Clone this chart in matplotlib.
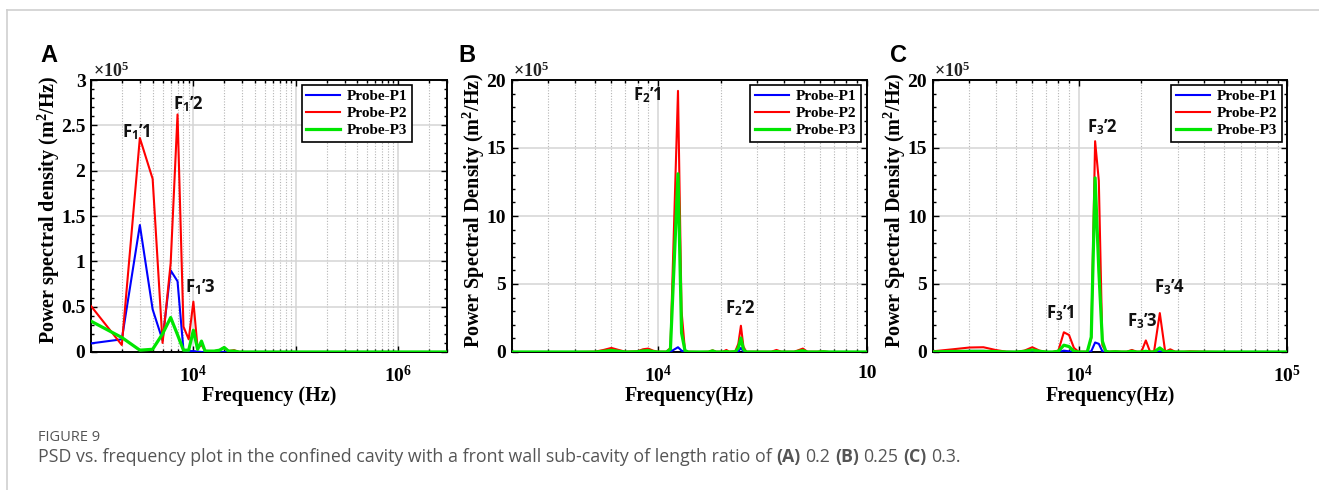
import matplotlib
matplotlib.use('Agg')
import numpy as np
import matplotlib.pyplot as plt
from matplotlib import font_manager
from matplotlib.ticker import FixedLocator, FixedFormatter, MultipleLocator, LogLocator, NullFormatter
from matplotlib.lines import Line2D


def pick_bold_family(prefs, fallback='DejaVu Sans'):
    for fam in prefs:
        for f in font_manager.fontManager.ttflist:
            if f.name != fam:
                continue
            w = f.weight
            if isinstance(w, str):
                w = font_manager.weight_dict.get(w, 400)
            if w >= 600:
                return fam
    return fallback


ANN_FAMILY = pick_bold_family(['Open Sans', 'Noto Sans', 'Lato', 'Roboto', 'Liberation Sans'])
CAP_FAMILY = pick_bold_family(['Noto Sans', 'Open Sans', 'Roboto', 'Lato', 'Liberation Sans'])

plt.rcParams['font.family'] = ['Liberation Serif', 'DejaVu Serif']
plt.rcParams['font.weight'] = 'bold'
plt.rcParams['mathtext.fontset'] = 'custom'
plt.rcParams['mathtext.rm'] = 'Liberation Serif:bold'
plt.rcParams['mathtext.bf'] = 'Liberation Serif:bold'
plt.rcParams['mathtext.it'] = 'Liberation Serif'
plt.rcParams['mathtext.sf'] = ANN_FAMILY + ':bold'

# ---------------- data (PSD in units of 1e5 m^2/Hz) ----------------
series_names = ['Probe-P1', 'Probe-P2', 'Probe-P3']

freq_a = [1000, 2000, 3000, 4000, 5000, 6000, 7000, 8000, 9000, 10000, 11000, 12000,
          13000, 14000, 15000, 16000, 18000, 20000, 22000, 25000, 28000, 3000000]
p1_a = [0.095, 0.14, 1.40, 0.47, 0.13, 0.90, 0.78, 0.02, 0.01, 0.01, 0.005, 0.0,
        0.0, 0.0, 0.0, 0.0, 0.0, 0.0, 0.0, 0.0, 0.0, 0.0]
p2_a = [0.507, 0.077, 2.36, 1.91, 0.10, 0.98, 2.62, 0.28, 0.14, 0.555, 0.04, 0.08,
        0.015, 0.01, 0.01, 0.01, 0.02, 0.05, 0.01, 0.02, 0.0, 0.0]
p3_a = [0.34, 0.16, 0.02, 0.03, 0.20, 0.38, 0.19, 0.02, 0.02, 0.24, 0.03, 0.12,
        0.01, 0.01, 0.01, 0.01, 0.02, 0.05, 0.01, 0.01, 0.0, 0.0]

freq_b = [2000, 3000, 4000, 5000, 5500, 6000, 6500, 7000, 8000, 8500, 9000, 9500, 10000,
          11000, 11500, 12500, 13000, 13500, 14000, 16000, 17500, 18300, 19000, 20500,
          21300, 22000, 23500, 24300, 25000, 25700, 26500, 30000, 35000, 37000, 39000,
          45000, 49500, 52000, 58000, 62000, 66000, 80000, 100000]
p1_b = [0, 0, 0, 0, 0, 0.02, 0, 0, 0, 0, 0.02, 0, 0,
        0, 0.02, 0.35, 0.1, 0.02, 0, 0, 0, 0.02, 0, 0,
        0, 0, 0, 0.05, 0.3, 0.05, 0, 0, 0, 0, 0,
        0, 0.05, 0, 0, 0, 0, 0, 0]
p2_b = [0, 0, 0, 0.02, 0.15, 0.3, 0.15, 0.02, 0.05, 0.2, 0.25, 0.1, 0.02,
        0.02, 0.3, 19.2, 3.0, 0.1, 0.02, 0, 0.02, 0.12, 0.02, 0.02,
        0.15, 0.02, 0.05, 0.6, 1.93, 0.4, 0.02, 0.02, 0.02, 0.15, 0.02,
        0.02, 0.25, 0.02, 0.02, 0.05, 0, 0, 0]
p3_b = [0, 0, 0, 0, 0.05, 0.12, 0.05, 0, 0.02, 0.08, 0.1, 0.03, 0,
        0, 0.2, 13.1, 1.4, 0.1, 0, 0, 0, 0.08, 0, 0,
        0.03, 0, 0.02, 0.3, 1.03, 0.2, 0, 0, 0, 0.03, 0,
        0, 0.1, 0, 0, 0.02, 0, 0, 0]

freq_c = [2000, 2500, 3000, 3500, 4000, 4500, 5000, 5500, 6000, 6500, 7000, 7500, 8000,
          8500, 9000, 9500, 10000, 11000, 11500, 12000, 12500, 13000, 13500, 14000, 15000,
          16000, 17000, 18000, 19000, 20000, 21000, 22000, 23000, 24500, 26000, 27500,
          29000, 32000, 34000, 40000, 50000, 60000, 100000]
p1_c = [0.01, 0.05, 0.08, 0.08, 0.04, 0.01, 0, 0, 0.03, 0, 0, 0, 0,
        0.1, 0.05, 0.01, 0, 0, 0.05, 0.7, 0.6, 0.05, 0, 0, 0,
        0, 0, 0.02, 0, 0, 0.05, 0, 0, 0.05, 0, 0.02,
        0, 0, 0, 0, 0, 0, 0]
p2_c = [0.05, 0.2, 0.33, 0.35, 0.15, 0.02, 0, 0.1, 0.35, 0.1, 0, 0, 0.1,
        1.45, 1.25, 0.3, 0.02, 0.02, 1.0, 15.5, 12.6, 0.5, 0.05, 0.02, 0.05,
        0.02, 0.02, 0.15, 0.02, 0.02, 0.85, 0.02, 0.05, 2.86, 0.02, 0.2,
        0.02, 0.02, 0.05, 0.02, 0, 0, 0]
p3_c = [0.01, 0.04, 0.05, 0.05, 0.03, 0, 0, 0.05, 0.15, 0.05, 0, 0, 0.05,
        0.5, 0.4, 0.05, 0, 0, 1.1, 12.8, 6.0, 0.8, 0.05, 0, 0.02,
        0, 0, 0.05, 0, 0, 0.05, 0, 0, 0.3, 0, 0.05,
        0, 0, 0, 0, 0, 0, 0]

y_ticks_a = [0, 0.5, 1, 1.5, 2, 2.5, 3]
y_ticklabels_a = ['0', '0.5', '1', '1.5', '2', '2.5', '3']
y_ticks_bc = [0, 5, 10, 15, 20]
y_ticklabels_bc = ['0', '5', '10', '15', '20']

x_ticks_a = [1e3, 1e4, 1e5, 1e6]
x_ticklabels_a = ['', '$10^4$', '', '$10^6$']
x_ticks_b = [1e4, 1e5]
x_ticklabels_b = ['$10^4$', '10']
x_ticks_c = [1e4, 1e5]
x_ticklabels_c = ['$10^4$', '$10^5$']

ylabels = ['Power spectral density (m$^2$/Hz)',
           'Power Spectral Density (m$^2$/Hz)',
           'Power Spectral Density (m$^2$/Hz)']
xlabels = ['Frequency (Hz)', 'Frequency(Hz)', 'Frequency(Hz)']
panel_letters = ['A', 'B', 'C']

annot_a = [(r'$\mathsf{F}_{\mathsf{1}}$’1', 0.086, 0.790),
           (r'$\mathsf{F}_{\mathsf{1}}$’2', 0.2295, 0.893),
           (r'$\mathsf{F}_{\mathsf{1}}$’3', 0.264, 0.217)]
annot_b = [(r'$\mathsf{F}_{\mathsf{2}}$’1', 0.341, 0.923),
           (r'$\mathsf{F}_{\mathsf{2}}$’2', 0.601, 0.143)]
annot_c = [(r'$\mathsf{F}_{\mathsf{3}}$’1', 0.3195, 0.121),
           (r'$\mathsf{F}_{\mathsf{3}}$’2', 0.435, 0.805),
           (r'$\mathsf{F}_{\mathsf{3}}$’3', 0.547, 0.092),
           (r'$\mathsf{F}_{\mathsf{3}}$’4', 0.624, 0.217)]

caption_title = 'FIGURE 9'
caption_segments = [('PSD vs. frequency plot in the confined cavity with a front wall sub-cavity of length ratio of ', 'normal'),
                    ('(A)', 'bold'), (' 0.2 ', 'normal'), ('(B)', 'bold'), (' 0.25 ', 'normal'),
                    ('(C)', 'bold'), (' 0.3.', 'normal')]

# ---------------- figure ----------------
W, H = 1319, 490
fig = plt.figure(figsize=(W / 100, H / 100), dpi=100)
fig.patch.set_facecolor('white')

# page frame lines
fig.add_artist(Line2D([7 / W, 1.0], [1 - 10 / H, 1 - 10 / H], transform=fig.transFigure,
                      color='#cfcfcf', lw=1.2))
fig.add_artist(Line2D([7 / W, 7 / W], [0, 1 - 10 / H], transform=fig.transFigure,
                      color='#cfcfcf', lw=1.2))


def px_axes(l, r, t, b):
    return [l / W, 1 - b / H, (r - l) / W, (b - t) / H]


panels = [
    dict(rect=px_axes(91, 447, 80, 352), freq=freq_a, data=[p1_a, p2_a, p3_a],
         xlim=(1000, 3e6), ylim=(0, 3), yt=y_ticks_a, ytl=y_ticklabels_a, yminor=0.1,
         xt=x_ticks_a, xtl=x_ticklabels_a, annots=annot_a, leg_x=0.902, ylab_x=-0.082,
         letter_px=(40, 62)),
    dict(rect=px_axes(511.7, 866.7, 80, 352), freq=freq_b, data=[p1_b, p2_b, p3_b],
         xlim=(2000, 1e5), ylim=(0, 20), yt=y_ticks_bc, ytl=y_ticklabels_bc, yminor=1,
         xt=x_ticks_b, xtl=x_ticklabels_b, annots=annot_b, leg_x=0.983, ylab_x=-0.07,
         letter_px=(458, 62)),
    dict(rect=px_axes(932.7, 1287.3, 80, 352), freq=freq_c, data=[p1_c, p2_c, p3_c],
         xlim=(2000, 1e5), ylim=(0, 20), yt=y_ticks_bc, ytl=y_ticklabels_bc, yminor=1,
         xt=x_ticks_c, xtl=x_ticklabels_c, annots=annot_c, leg_x=0.984, ylab_x=-0.07,
         letter_px=(890, 62)),
]

colors = ['#0000ff', '#ff0000', '#00e600']
widths = [1.5, 1.5, 2.3]

for i, p in enumerate(panels):
    ax = fig.add_axes(p['rect'])
    ax.set_xscale('log')
    handles = []
    for vals, c, lw, name in zip(p['data'], colors, widths, series_names):
        h, = ax.plot(p['freq'], vals, color=c, lw=lw, label=name, zorder=3)
        handles.append(h)
    ax.set_xlim(*p['xlim'])
    ax.set_ylim(*p['ylim'])

    ax.xaxis.set_major_locator(FixedLocator(p['xt']))
    ax.xaxis.set_major_formatter(FixedFormatter(p['xtl']))
    ax.xaxis.set_minor_locator(LogLocator(base=10, subs=np.arange(2, 10), numticks=100))
    ax.xaxis.set_minor_formatter(NullFormatter())
    ax.yaxis.set_major_locator(FixedLocator(p['yt']))
    ax.yaxis.set_major_formatter(FixedFormatter(p['ytl']))
    ax.yaxis.set_minor_locator(MultipleLocator(p['yminor']))

    ax.tick_params(which='both', direction='in', top=True, right=True, width=1.0, color='black')
    ax.tick_params(which='major', length=4.5, labelsize=14)
    ax.tick_params(which='minor', length=2.5)
    ax.tick_params(axis='x', which='major', pad=9)
    ax.tick_params(axis='y', which='major', pad=4)

    ax.grid(True, which='major', axis='both', color='#d4d4d4', lw=1.1, ls='-', zorder=0)
    ax.grid(True, which='minor', axis='x', color='#b5b5b5', lw=0.8, ls=(0, (1, 1.5)), zorder=0)
    ax.set_axisbelow(True)
    for sp in ax.spines.values():
        sp.set_linewidth(1.4)
        sp.set_color('black')

    ax.set_ylabel(ylabels[i], fontsize=14.5, fontweight='bold')
    ax.yaxis.set_label_coords(p['ylab_x'], 0.522)
    ax.set_xlabel(xlabels[i], fontsize=14.5, fontweight='bold')
    ax.xaxis.set_label_coords(0.5, -0.125)

    leg = ax.legend(handles=handles, loc='upper right', bbox_to_anchor=(p['leg_x'], 0.982),
                    borderaxespad=0, frameon=True, fancybox=False, edgecolor='black',
                    framealpha=1, prop=dict(family='Liberation Serif', weight='bold', size=11),
                    handlelength=2.2, handletextpad=0.45, labelspacing=0.22, borderpad=0.3)
    leg.get_frame().set_linewidth(1.2)
    leg.set_zorder(5)

    for txt, xa, ya in p['annots']:
        ax.text(xa, ya, txt, transform=ax.transAxes, family=ANN_FAMILY, fontweight='bold',
                fontsize=12, ha='left', va='baseline', color='#111111', zorder=6)

    ax.text(0.005, 1 + 3 / 272, r'$\mathit{×10^{5}}$', transform=ax.transAxes,
            fontsize=13, ha='left', va='baseline', color='#222222')

    lx, ly = p['letter_px']
    fig.text(lx / W, 1 - ly / H, panel_letters[i], family='Liberation Sans',
             fontweight='bold', fontsize=17, ha='left', va='baseline', color='black')

# ---------------- caption ----------------
renderer = fig.canvas.get_renderer()
cap_kw = dict(family=CAP_FAMILY, fontsize=12.8, color='#555555', va='baseline', ha='left')
fig.text(38 / W, 1 - 441 / H, caption_title, family=CAP_FAMILY, fontsize=10.5,
         fontweight='normal', color='#555555', va='baseline', ha='left')

t1 = fig.text(0, 0, 'x x', fontweight='normal', **cap_kw)
t2 = fig.text(0, 0, 'xx', fontweight='normal', **cap_kw)
space_w = t1.get_window_extent(renderer).width - t2.get_window_extent(renderer).width
t1.remove()
t2.remove()

x = 38.0
y = 462.0
for s, wgt in caption_segments:
    lead = len(s) - len(s.lstrip(' '))
    trail = len(s) - len(s.rstrip(' '))
    x += lead * space_w
    t = fig.text(x / W, 1 - y / H, s.strip(), fontweight=wgt, **cap_kw)
    x += t.get_window_extent(renderer).width + trail * space_w

fig.savefig('out.png', dpi=100, facecolor='white')
